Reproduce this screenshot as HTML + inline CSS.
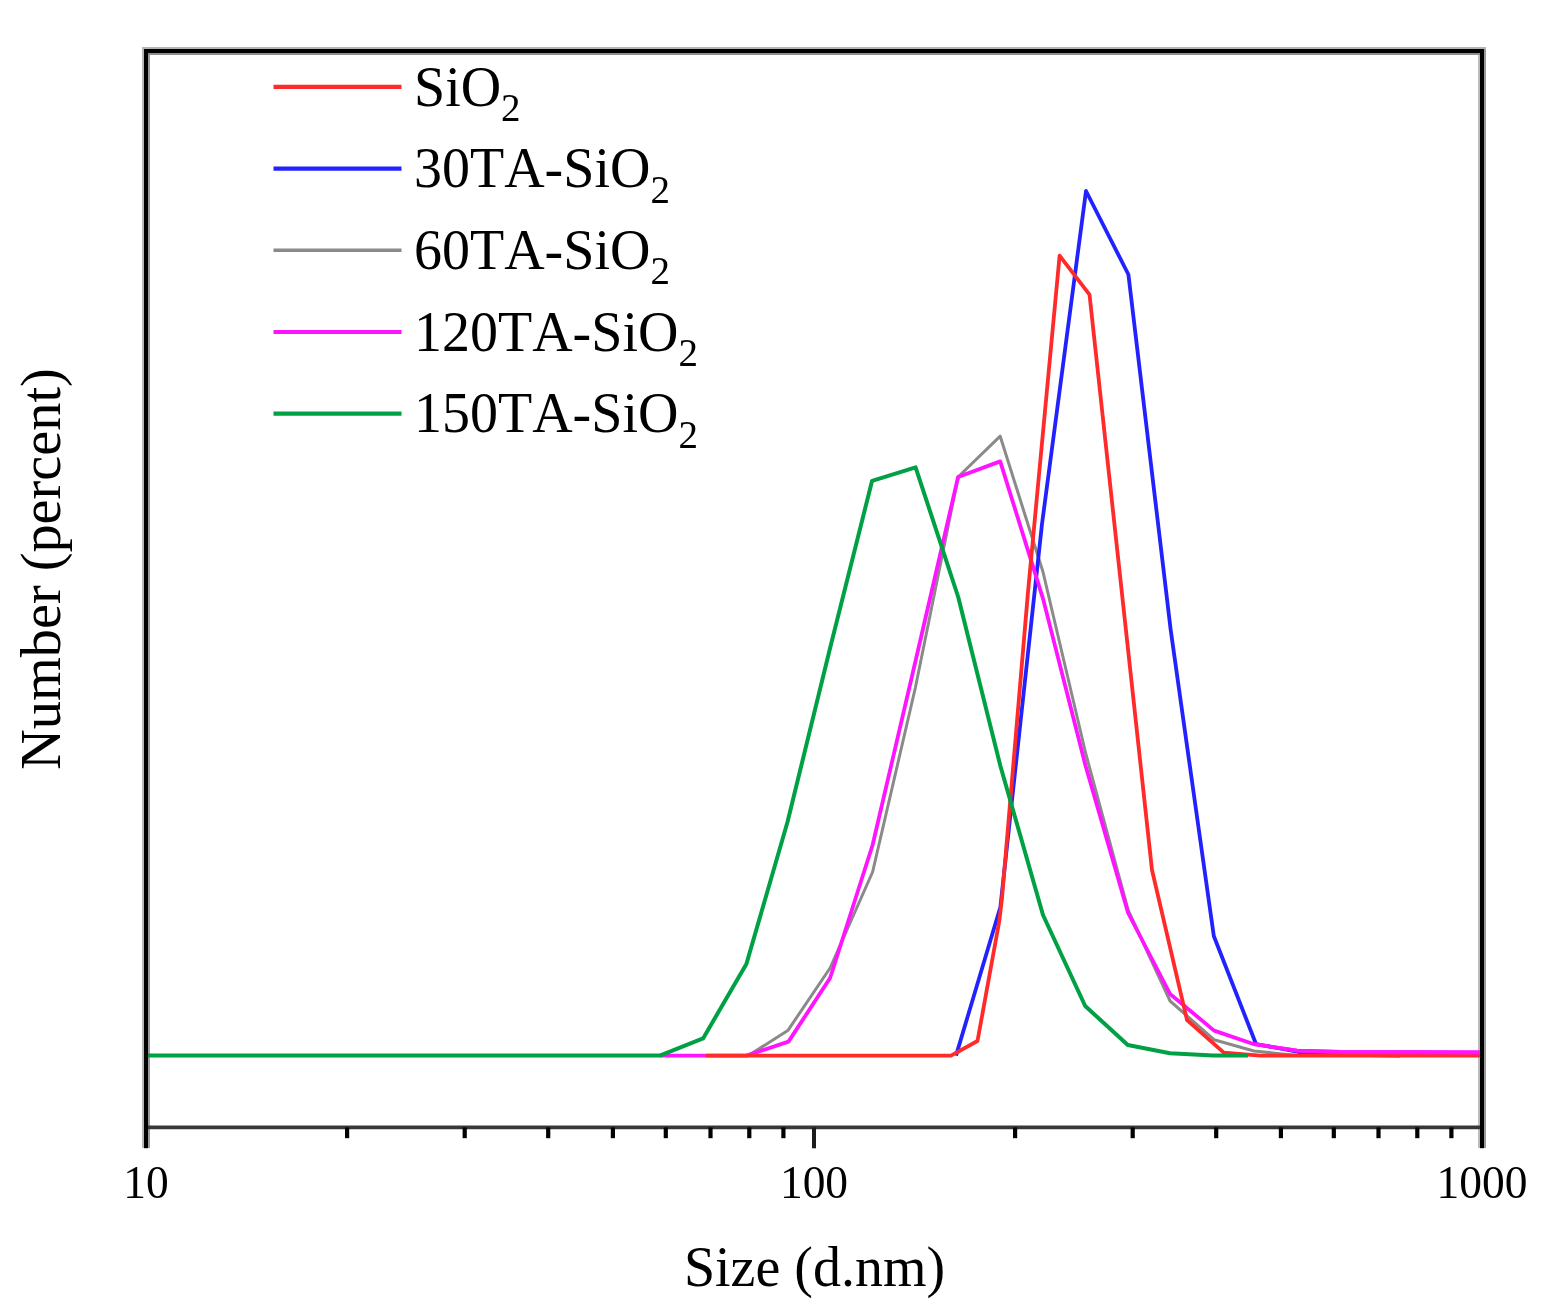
<!DOCTYPE html>
<html lang="en">
<head>
<meta charset="utf-8">
<title>Particle size distribution</title>
<style>
html,body{margin:0;padding:0;background:#fff;}
body{width:1546px;height:1314px;overflow:hidden;}
svg{display:block;}
text{font-family:"Liberation Serif","DejaVu Serif",serif;fill:#000;font-kerning:none;}
.t{font-size:45.5px;text-anchor:middle;}
.a{font-size:56px;text-anchor:middle;}
.l{font-size:56px;}
.s{font-size:39px;}
.c{fill:none;stroke-linejoin:round;stroke-linecap:butt;}
</style>
</head>
<body>
<svg width="1546" height="1314" viewBox="0 0 1546 1314">
<rect x="0" y="0" width="1546" height="1314" fill="#fff"/>

<g stroke="none">
<rect x="142" y="47" width="2" height="1101" fill="#b8b8b8"/>
<rect x="148" y="53" width="2" height="1095" fill="#9a9a9a"/>
<rect x="1478" y="53" width="2" height="1095" fill="#bbbbbb"/>
<rect x="1484" y="47" width="2" height="1101" fill="#9a9a9a"/>
<rect x="142" y="47" width="1344" height="2" fill="#b4b4b4"/>
<rect x="148" y="53" width="1332" height="2" fill="#8e8e8e"/>
</g>
<g class="c">
<polyline points="748.0,1055.6 750.0,1054.5 787.8,1030.6 830.1,968.0 872.6,872.0 915.3,688.0 958.1,477.0 1000.2,436.2 1043.0,572.0 1085.6,753.0 1128.1,910.0 1170.1,1001.0 1214.0,1039.7 1254.0,1051.0 1298.0,1055.6 1330.0,1055.6" stroke="#8a8a8a" stroke-width="3.0"/>
<polyline points="956.0,1055.6 1000.4,907.0 1042.0,524.0 1086.0,191.0 1128.4,274.5 1170.7,630.0 1213.8,936.0 1256.0,1044.0 1298.5,1052.0 1341.0,1054.5 1400.0,1055.6" stroke="#2222ff" stroke-width="3.8"/>
<polyline points="660.0,1055.6 746.4,1055.6 788.5,1041.6 830.1,978.0 872.6,845.0 915.3,662.0 958.1,477.0 1000.2,461.4 1043.0,598.6 1085.6,766.0 1128.1,913.0 1170.1,994.0 1214.1,1030.6 1254.2,1044.2 1296.9,1050.7 1340.0,1052.0 1482.0,1052.5" stroke="#ff14ff" stroke-width="3.8"/>
<polyline points="706.0,1055.6 951.0,1055.6 977.5,1041.0 999.3,921.0 1002.0,898.0 1028.0,592.0 1059.6,255.6 1089.5,294.6 1152.0,870.0 1187.0,1020.0 1223.8,1052.6 1260.0,1055.6 1482.0,1055.6" stroke="#ff2a2a" stroke-width="3.8"/>
<polyline points="148.0,1055.6 659.8,1055.6 703.1,1038.4 746.4,964.0 787.5,822.0 830.1,648.0 872.1,480.8 915.6,467.3 958.2,597.0 1000.4,766.0 1043.0,915.0 1085.2,1006.0 1127.8,1045.0 1170.0,1053.3 1213.0,1055.6 1248.0,1055.6" stroke="#00a044" stroke-width="4.0"/>
<polyline points="1254.2,1044.2 1296.9,1050.7 1340.0,1052.0 1482.0,1052.5" stroke="#ff14ff" stroke-width="3.8"/>
</g>
<g stroke="#000" fill="none">
<line x1="146.0" y1="1127.4" x2="1482.0" y2="1127.4" stroke="#383838" stroke-width="3.8"/>
<line x1="347.1" y1="1127.4" x2="347.1" y2="1138.2" stroke-width="4.2"/>
<line x1="464.7" y1="1127.4" x2="464.7" y2="1138.2" stroke-width="4.2"/>
<line x1="548.2" y1="1127.4" x2="548.2" y2="1138.2" stroke-width="4.2"/>
<line x1="612.9" y1="1127.4" x2="612.9" y2="1138.2" stroke-width="4.2"/>
<line x1="665.8" y1="1127.4" x2="665.8" y2="1138.2" stroke-width="4.2"/>
<line x1="710.5" y1="1127.4" x2="710.5" y2="1138.2" stroke-width="4.2"/>
<line x1="749.3" y1="1127.4" x2="749.3" y2="1138.2" stroke-width="4.2"/>
<line x1="783.4" y1="1127.4" x2="783.4" y2="1138.2" stroke-width="4.2"/>
<line x1="1015.1" y1="1127.4" x2="1015.1" y2="1138.2" stroke-width="4.2"/>
<line x1="1132.7" y1="1127.4" x2="1132.7" y2="1138.2" stroke-width="4.2"/>
<line x1="1216.2" y1="1127.4" x2="1216.2" y2="1138.2" stroke-width="4.2"/>
<line x1="1280.9" y1="1127.4" x2="1280.9" y2="1138.2" stroke-width="4.2"/>
<line x1="1333.8" y1="1127.4" x2="1333.8" y2="1138.2" stroke-width="4.2"/>
<line x1="1378.5" y1="1127.4" x2="1378.5" y2="1138.2" stroke-width="4.2"/>
<line x1="1417.3" y1="1127.4" x2="1417.3" y2="1138.2" stroke-width="4.2"/>
<line x1="1451.4" y1="1127.4" x2="1451.4" y2="1138.2" stroke-width="4.2"/>
<line x1="814.0" y1="1127.4" x2="814.0" y2="1148.3" stroke="#1c1c1c" stroke-width="4.0"/>
</g>
<g stroke="none">
<rect x="144" y="49" width="4" height="1099.2" fill="#000"/>
<rect x="1480" y="49" width="4" height="1099.2" fill="#000"/>
<rect x="144" y="49" width="1340" height="4" fill="#000"/>
</g>
<text class="t" transform="translate(146.0 1198.4) scale(1 1.025)">10</text>
<text class="t" transform="translate(814.0 1198.4) scale(1 1.025)">100</text>
<text class="t" transform="translate(1482.0 1198.4) scale(1 1.025)">1000</text>
<text class="a" transform="translate(814.5 1286.2) scale(1 1.025)">Size (d.nm)</text>
<text class="a" style="font-size:56.3px" transform="translate(59.8 569) rotate(-90)">Number (percent)</text>
<line x1="273.5" y1="86.9" x2="401.5" y2="86.9" stroke="#ff2a2a" stroke-width="4.2"/>
<text class="l" transform="translate(414 105.6) scale(1 1.025)">SiO<tspan class="s" dy="15">2</tspan></text>
<line x1="273.5" y1="168.6" x2="401.5" y2="168.6" stroke="#2222ff" stroke-width="4.2"/>
<text class="l" transform="translate(414 187.3) scale(1 1.025)">30TA-SiO<tspan class="s" dy="15">2</tspan></text>
<line x1="273.5" y1="250.3" x2="401.5" y2="250.3" stroke="#8a8a8a" stroke-width="3.6"/>
<text class="l" transform="translate(414 269.0) scale(1 1.025)">60TA-SiO<tspan class="s" dy="15">2</tspan></text>
<line x1="273.5" y1="332.0" x2="401.5" y2="332.0" stroke="#ff14ff" stroke-width="4.2"/>
<text class="l" transform="translate(414 350.7) scale(1 1.025)">120TA-SiO<tspan class="s" dy="15">2</tspan></text>
<line x1="273.5" y1="413.7" x2="401.5" y2="413.7" stroke="#00a044" stroke-width="4.2"/>
<text class="l" transform="translate(414 432.4) scale(1 1.025)">150TA-SiO<tspan class="s" dy="15">2</tspan></text>
</svg>
</body>
</html>
